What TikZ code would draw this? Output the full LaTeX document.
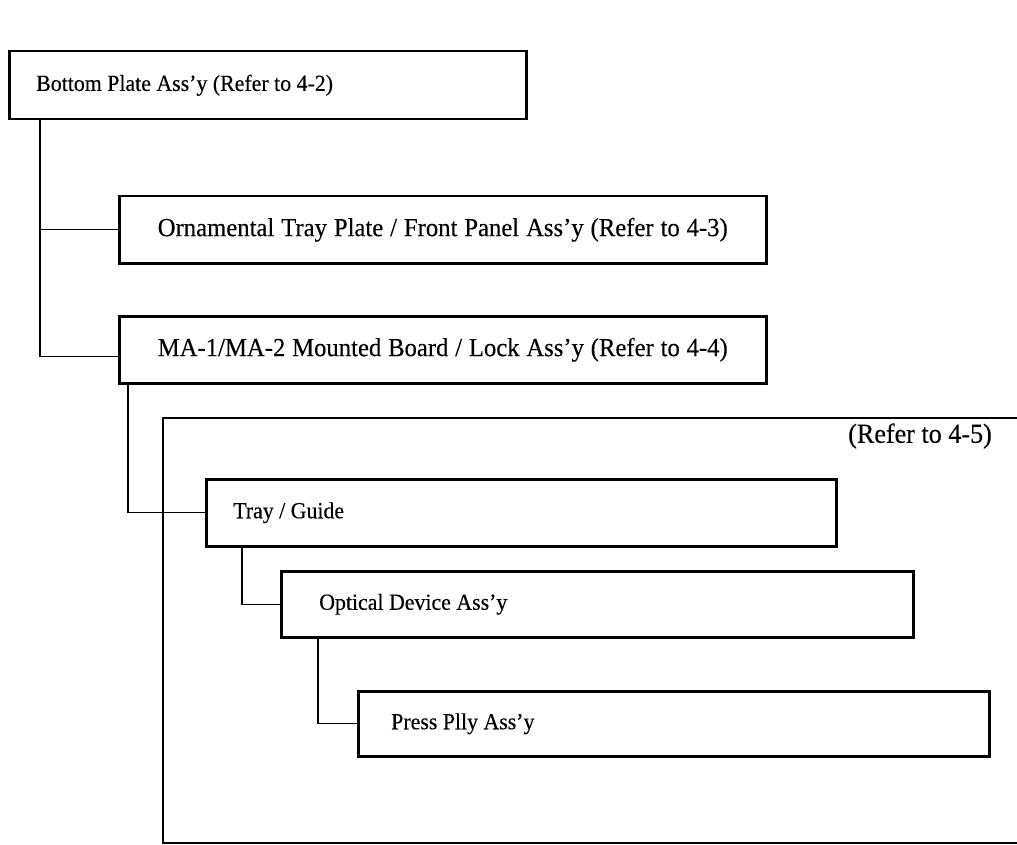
\documentclass[tikz,border=0pt]{standalone}
\usepackage{fontspec}
\setmainfont[FakeStretch=0.95, FakeBold=0.3]{Liberation Serif}
\usetikzlibrary{positioning}

\begin{document}
\begin{tikzpicture}[
		x=1pt, y=-1pt,
		part box/.style={
			draw,
			line width=2.5pt,
			anchor=north west,
			inner xsep=0pt,
			inner ysep=0pt,
			font=\fontsize{23}{27}\selectfont
		},
		wide text/.style={
			font=\fontsize{26}{30}\selectfont
		},
		link/.style={line width=1.4pt},
		group box/.style={draw, line width=2.5pt}
		]
		
		\useasboundingbox (0,0) rectangle (1017,845);
		
		% top level
		\node[part box, minimum width=517pt, minimum height=68pt] (bottom) at (8,50) 
		{\makebox[517pt][l]{\hspace*{27pt}Bottom Plate Ass'y (Refer to 4-2)}};
		
		\node[part box, wide text, minimum width=647pt, minimum height=67pt] (ornamental) at (118,195) 
		{\makebox[570pt][s]{Ornamental Tray Plate / Front Panel Ass'y (Refer to 4-3)}};
		
		\node[part box, wide text, minimum width=647pt, minimum height=67pt] (mounted) at (118,315) 
		{\makebox[570pt][s]{MA-1/MA-2 Mounted Board / Lock Ass'y (Refer to 4-4)}};
		
		% group 4-5
		\draw[group box] (163,418) rectangle (1040,843);
		\node[font=\fontsize{27.5}{32}\selectfont, anchor=west, inner xsep=0pt] (refer) at (848,436) {(Refer to 4-5)};
		
		\node[part box, minimum width=630pt, minimum height=67pt] (tray) at (205,478) 
		{\makebox[630pt][l]{\hspace*{27pt}Tray / Guide}};
		
		\node[part box, minimum width=632pt, minimum height=66pt] (optical) at (280,570) 
		{\makebox[632pt][l]{\hspace*{38pt}Optical Device Ass'y}};
		
		\node[part box, minimum width=631pt, minimum height=65pt] (press) at (357,690) 
		{\makebox[631pt][l]{\hspace*{33pt}Press Plly Ass'y}};
		
		% connectors
		\draw[link] (bottom.south west -| 40,0) |- (ornamental.west);
		\draw[link] (bottom.south west -| 40,0) |- ([yshift=-7pt]mounted.west);
		\draw[link] (mounted.south west -| 128,0) |- (tray.west);
		\draw[link] (tray.south west -| 242,0) |- (optical.west);
		\draw[link] (optical.south west -| 318,0) |- (press.west);
		
	\end{tikzpicture}
\end{document}
